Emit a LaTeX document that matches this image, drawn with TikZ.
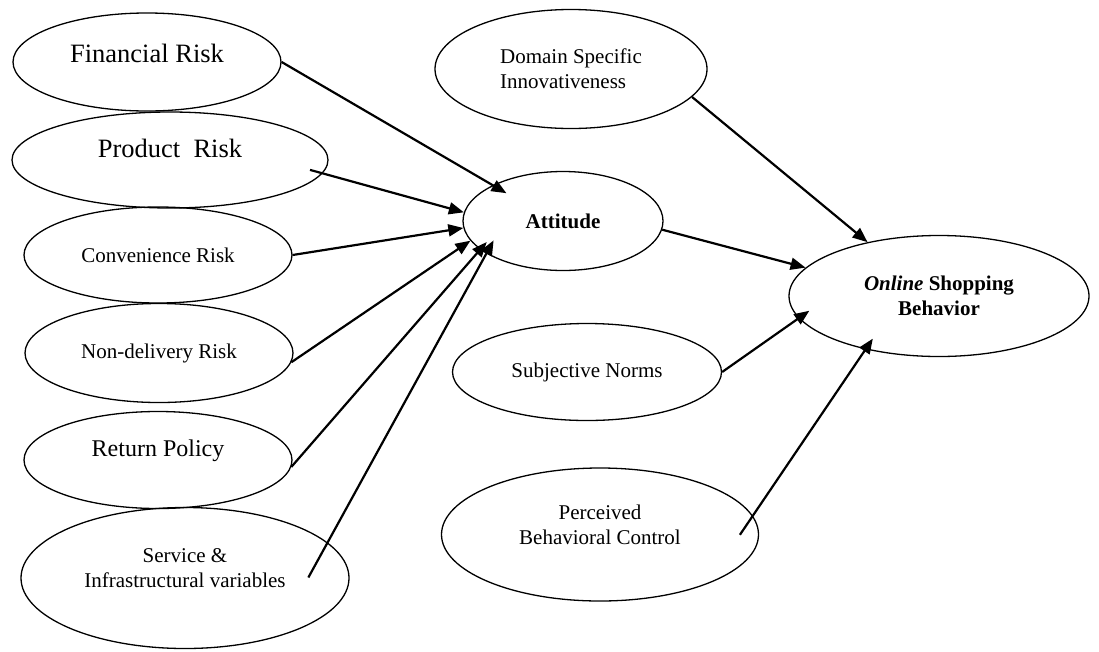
\documentclass[tikz,border=0pt]{standalone}
\usepackage{fontspec}
\setmainfont{Liberation Serif}
\usetikzlibrary{arrows.meta, shapes.geometric}

\begin{document}
\begin{tikzpicture}[x=1pt, y=-1pt,
  var/.style={ellipse, draw, line width=1.3pt, inner sep=0pt, align=center,
              font=\fontsize{21}{25}\selectfont},
  big/.style={var, font=\fontsize{26.5}{30}\selectfont},
  lift/.style={text depth=#1},
  arr/.style={-{Triangle[length=15pt, width=12pt]}, line width=2.2pt}]
  \useasboundingbox (0,0) rectangle (1099,651);
  \node[big, lift=18pt, minimum width=268pt, minimum height=98pt] (fin) at (147,62) {Financial Risk};
  \node[big, lift=24pt, minimum width=316pt, minimum height=96pt] (prod) at (170,160) {Product\ \ Risk};
  \node[var, minimum width=268pt, minimum height=96pt] (conv) at (158,255) {Convenience Risk};
  \node[var, minimum width=268pt, minimum height=99pt] (nond) at (159,353) {Non-delivery Risk};
  \node[var, lift=23pt, font=\fontsize{24}{28}\selectfont, minimum width=268pt, minimum height=97pt] (ret) at (158,460) {Return Policy};
  \node[var, lift=20pt, minimum width=328pt, minimum height=141pt] (svc) at (185,578) {Service \&\\Infrastructural variables};
  \node[var, font=\fontsize{21}{25}\selectfont\bfseries, minimum width=200pt, minimum height=99pt] (att) at (563,221) {Attitude};
  \node[var, align=left, minimum width=272pt, minimum height=119pt] (dom) at (571,69) {Domain Specific\\Innovativeness};
  \node[var, font=\fontsize{21}{25}\selectfont\bfseries, minimum width=300pt, minimum height=121pt] (onl) at (939,296) {\textit{Online} Shopping\\Behavior};
  \node[var, minimum width=269pt, minimum height=97pt] (sub) at (587,372) {Subjective Norms};
  \node[var, lift=19pt, minimum width=317pt, minimum height=133pt] (perc) at (600,534.5) {Perceived\\Behavioral Control};
  \draw[arr, shorten >=-16pt] (fin.east) -- (att.153);
  \draw[arr, shorten <=-13pt] (prod.-5) -- (att.175);
  \draw[arr] (conv.east) -- (att.184);
  \draw[arr] (nond.-4) -- (att.192);
  \draw[arr, shorten >=-10pt] (ret.-3) -- (att.199);
  \draw[arr, shorten <=-40pt, shorten >=-15pt] (svc.14) -- (att.203);
  \draw[arr] (att.-5) -- (onl.168);
  \draw[arr] (dom.-13) -- (onl.143);
  \draw[arr, shorten >=-13pt] (sub.east) -- (onl.189);
  \draw[arr, shorten <=-23pt, shorten >=-13pt] (perc.7) -- (onl.216);
\end{tikzpicture}
\end{document}
